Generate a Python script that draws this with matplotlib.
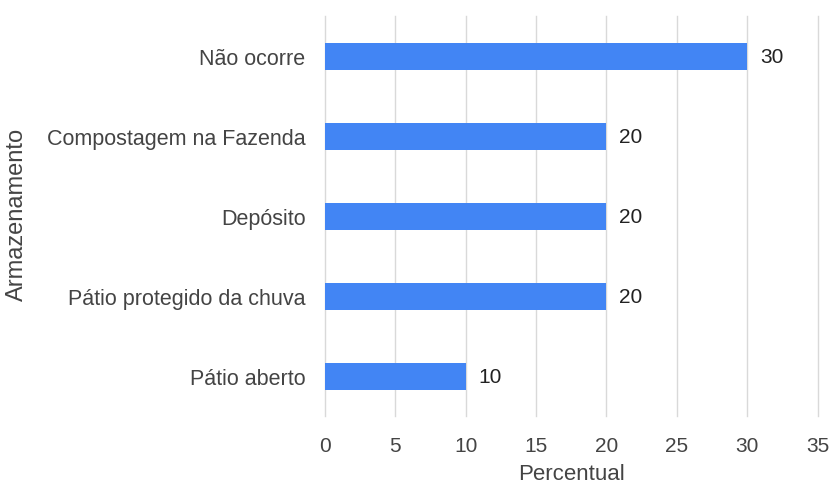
import matplotlib.pyplot as plt

categorias = ["Não ocorre", "Compostagem na Fazenda", "Depósito",
              "Pátio protegido da chuva", "Pátio aberto"]
percentual = [30, 20, 20, 20, 10]
xticks = [0, 5, 10, 15, 20, 25, 30, 35]

plt.rcParams['font.family'] = ['Liberation Sans', 'DejaVu Sans']
cor_texto = '#444444'

fig = plt.figure(figsize=(8.32, 4.89), dpi=100)
ax = fig.add_axes([0.3906, 0.147, 0.592, 0.818])

pos = list(range(len(categorias)))
ax.barh(pos, percentual, height=0.34, color='#4285F4', zorder=3)
for p, v in zip(pos, percentual):
    ax.text(v + 0.9, p, str(v), va='center', ha='left', fontsize=15, color='#222222')

ax.set_ylim(4.5, -0.5)
ax.set_xlim(0, 35)
ax.set_yticks(pos)
ax.set_yticklabels(categorias, fontsize=15.5, color=cor_texto)
ax.set_xticks(xticks)
ax.set_xticklabels([str(t) for t in xticks], fontsize=15, color=cor_texto)
ax.tick_params(length=0, pad=14)
ax.tick_params(axis='y', pad=14)
ax.grid(axis='x', color='#d9d9d9', linewidth=1, zorder=0)
for gl in ax.get_xgridlines():
    gl.set_clip_on(False)
for s in ax.spines.values():
    s.set_visible(False)

ax.set_xlabel("Percentual", fontsize=16, color=cor_texto, labelpad=6)
fig.text(0.02, 0.562, "Armazenamento", rotation=90, va='center', ha='center',
         fontsize=17, color=cor_texto)

fig.savefig("out.png", dpi=100)
